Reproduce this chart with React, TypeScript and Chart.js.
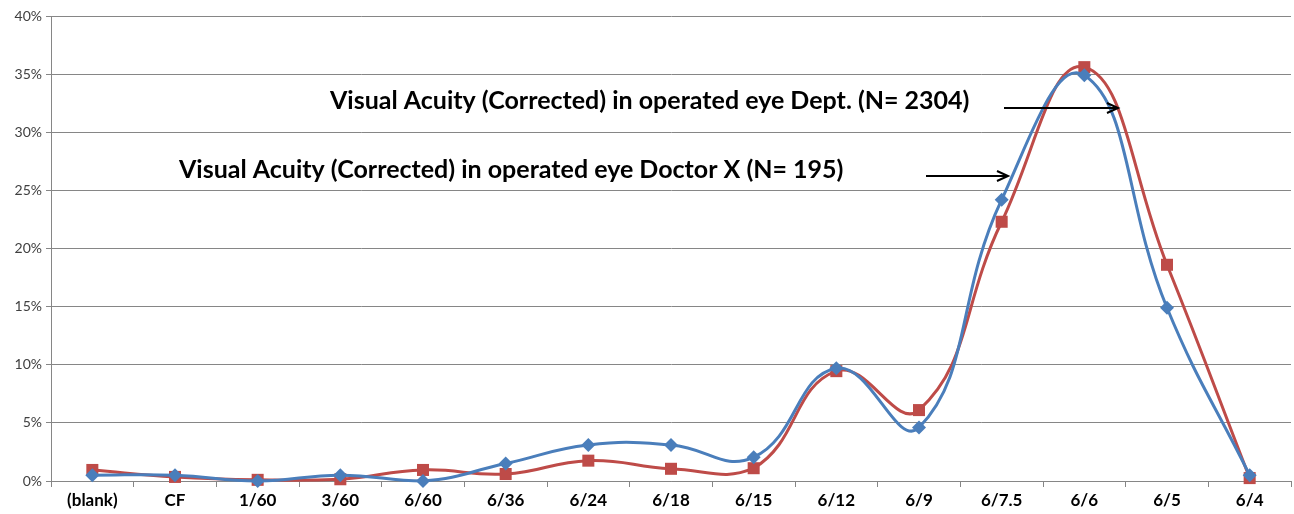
import React, { useEffect, useRef } from "react";
import { Chart, registerables } from "chart.js";

Chart.register(...registerables);

const categories = ["(blank)", "CF", "1/60", "3/60", "6/60", "6/36", "6/24", "6/18", "6/15", "6/12", "6/9", "6/7.5", "6/6", "6/5", "6/4"];
const doctorX = [0.5, 0.5, 0.0, 0.5, 0.0, 1.5, 3.1, 3.1, 2.05, 9.7, 4.6, 24.2, 34.9, 14.9, 0.5];
const dept = [0.95, 0.35, 0.1, 0.15, 0.95, 0.6, 1.75, 1.05, 1.1, 9.45, 6.1, 22.3, 35.6, 18.6, 0.25];
const deptLabel = "Visual Acuity (Corrected) in operated eye Dept. (N= 2304)";
const doctorLabel = "Visual Acuity (Corrected) in operated eye Doctor X (N= 195)";

const annotationPlugin = {
  id: "annots",
  afterDraw(chart: any) {
    const ctx = chart.ctx;
    ctx.save();
    ctx.fillStyle = "#000";
    ctx.font = "bold 25px Lato";
    ctx.textBaseline = "middle";
    ctx.textAlign = "left";
    ctx.fillText(deptLabel, 330, 101);
    ctx.fillText(doctorLabel, 179, 170);
    const arrow = (x1: number, x2: number, y: number) => {
      ctx.strokeStyle = "#000";
      ctx.lineWidth = 2;
      ctx.beginPath();
      ctx.moveTo(x1, y);
      ctx.lineTo(x2, y);
      ctx.moveTo(x2 - 11, y - 5);
      ctx.lineTo(x2, y);
      ctx.lineTo(x2 - 11, y + 5);
      ctx.stroke();
    };
    arrow(1004, 1118, 108);
    arrow(926, 1008, 176);
    ctx.restore();
  },
};

export default function App() {
  const ref = useRef<HTMLCanvasElement>(null);
  useEffect(() => {
    document.body.style.margin = "0";
    const chart = new Chart(ref.current!, {
      type: "line",
      data: {
        labels: categories,
        datasets: [
          {
            label: "Doctor X",
            data: doctorX,
            borderColor: "#4A7EBB",
            backgroundColor: "#4A7EBB",
            borderWidth: 3,
            pointStyle: "rectRot",
            pointRadius: 7,
            pointBorderWidth: 0,
            tension: 0.45,
            clip: false,
          },
          {
            label: "Dept",
            data: dept,
            borderColor: "#BE4B48",
            backgroundColor: "#BE4B48",
            borderWidth: 3,
            pointStyle: "rect",
            pointRadius: 8.5,
            pointBorderWidth: 0,
            tension: 0.45,
            clip: false,
          },
        ],
      },
      options: {
        animation: false,
        responsive: false,
        layout: { autoPadding: false, padding: { top: 16, right: 3, left: 0, bottom: 0 } },
        plugins: { legend: { display: false }, tooltip: { enabled: false } },
        scales: {
          x: {
            offset: true,
            grid: { offset: true, drawOnChartArea: false, drawTicks: true, tickLength: 6, color: "#868686" },
            border: { color: "#868686", width: 1 },
            ticks: { color: "#000", font: { family: "Lato", size: 17, weight: "bold" }, padding: 3, maxRotation: 0, autoSkip: false },
            afterFit: (s: any) => { s.height = 33; },
          },
          y: {
            min: 0,
            max: 40,
            ticks: { stepSize: 5, color: "#404040", font: { family: "Lato", size: 14 }, padding: 4, callback: (v: any) => v + "%" },
            grid: { color: "#868686", tickLength: 5 },
            border: { color: "#868686", width: 1 },
            afterFit: (s: any) => { s.width = 51; },
          },
        },
      },
      plugins: [annotationPlugin],
    });
    return () => chart.destroy();
  }, []);
  return (
    <div style={{ width: 1294, height: 514 }}>
      <canvas ref={ref} width={1294} height={514} style={{ display: "block" }} />
    </div>
  );
}
